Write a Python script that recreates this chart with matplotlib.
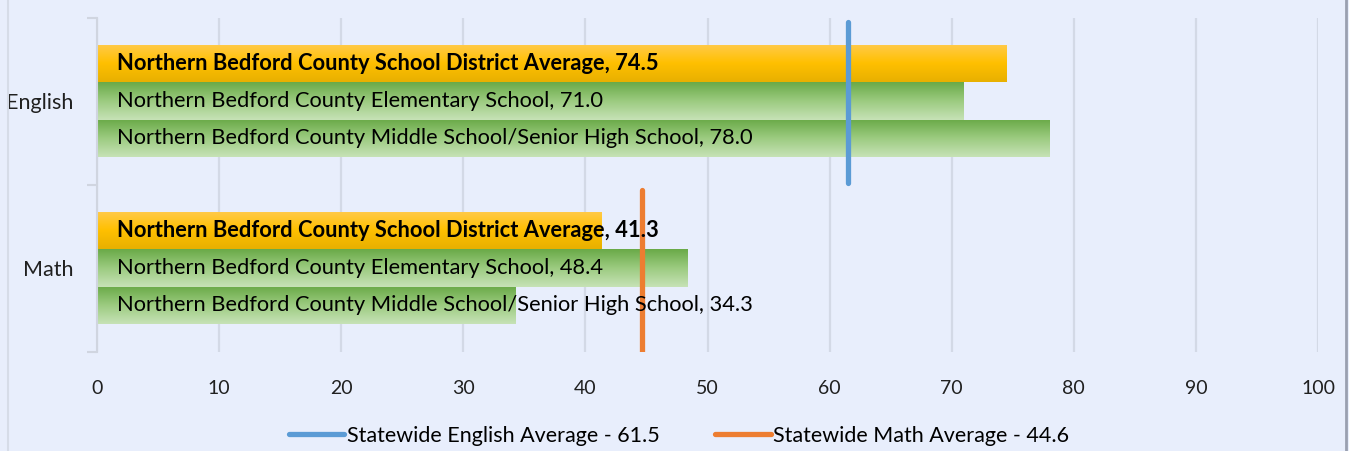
import numpy as np
import matplotlib
matplotlib.use("Agg")
import matplotlib.pyplot as plt
from matplotlib.colors import LinearSegmentedColormap

# Data
subjects = ["Math", "English"]
district = [41.3, 74.5]
elementary = [48.4, 71.0]
middle_high = [34.3, 78.0]
statewide = [44.6, 61.5]

district_name = "Northern Bedford County School District Average"
elementary_name = "Northern Bedford County Elementary School"
middle_name = "Northern Bedford County Middle School/Senior High School"
legend_labels = ["Statewide English Average - 61.5", "Statewide Math Average - 44.6"]
x_ticks = list(range(0, 101, 10))

BG = "#E8EEFC"
plt.rcParams['font.family'] = ['Lato', 'DejaVu Sans']

fig = plt.figure(figsize=(13.49, 4.51), dpi=100, facecolor=BG)
ax = fig.add_axes([97 / 1349, 1 - 352 / 451, (1318 - 97) / 1349, (352 - 18) / 451])
ax.set_facecolor(BG)

yellow_cmap = LinearSegmentedColormap.from_list("y", ["#FFCA4A", "#FFC000", "#E8B000"])
green_cmap = LinearSegmentedColormap.from_list("g", ["#6AAA48", "#9CCB80", "#C6E2B6"])

bar_h = 0.2245
offsets = [bar_h, 0.0, -bar_h]
series = [(district, yellow_cmap, district_name, True),
          (elementary, green_cmap, elementary_name, False),
          (middle_high, green_cmap, middle_name, False)]

grad = np.linspace(0, 1, 64).reshape(-1, 1)
labels = []
for (vals, cmap, name, bold), off in zip(series, offsets):
    for i, v in enumerate(vals):
        yc = i + 0.503 + off
        bars = ax.barh(yc, v, height=bar_h, color="none", zorder=2)
        patch = bars[0]
        im = ax.imshow(grad, extent=[0, v, yc - bar_h / 2, yc + bar_h / 2],
                       aspect="auto", cmap=cmap, zorder=2, origin="upper")
        im.set_clip_path(patch)
        t = ax.text(1.6, yc, f"{name}, {v:.1f}", va="center", ha="left",
                    fontsize=16.0 if bold else 15.0,
                    fontweight="bold" if bold else "normal",
                    color="black", zorder=5)
        labels.append((t, bold))

# Statewide average markers
line_colors = ["#ED7D31", "#5B9BD5"]
spans = [(0.0, 0.97), (1.012, 1.975)]
handles = {}
for i, v in enumerate(statewide):
    ln, = ax.plot([v, v], spans[i], color=line_colors[i], lw=3.8,
                  solid_capstyle="round", zorder=4)
    handles[i] = ln

ax.set_xlim(0, 100)
ax.set_ylim(0, 2)
ax.set_xticks(x_ticks)
ax.set_xticklabels([str(t) for t in x_ticks], fontsize=14, color="#202020")
ax.tick_params(axis="x", length=0, pad=20)
ax.grid(axis="x", color="#D3D9E6", lw=1.6, zorder=0)
ax.set_axisbelow(True)

ax.set_yticks([0, 1, 2])
ax.set_yticklabels([])
ax.set_yticks([0.503, 1.503], minor=True)
ax.set_yticklabels(subjects, minor=True, fontsize=15.5, color="#202020")
ax.tick_params(axis="y", which="major", length=7, width=1.5, color="#D0D5E0")
ax.tick_params(axis="y", which="minor", length=0, pad=17)

for s in ["top", "right", "bottom"]:
    ax.spines[s].set_visible(False)
ax.spines["left"].set_color("#D0D5E0")
ax.spines["left"].set_linewidth(1.5)

# fit label sizes to the widths seen in the original (bold ~541px, longest ~637px)
fig.canvas.draw()
r = fig.canvas.get_renderer()
bold_w = max(t.get_window_extent(r).width for t, b in labels if b)
norm_w = max(t.get_window_extent(r).width for t, b in labels if not b)
for t, b in labels:
    t.set_fontsize(t.get_fontsize() * (541 / bold_w if b else 637 / norm_w))

fig.legend([handles[1], handles[0]], legend_labels, loc="center",
           bbox_to_anchor=(679 / 1349, 1 - 436 / 451), ncol=2, frameon=False,
           fontsize=15.5, handlelength=2.6, handletextpad=0.1,
           columnspacing=2.6)

# chart area edges
fig.add_artist(plt.Line2D([8 / 1349, 8 / 1349], [0, 1], color="#D6DCE8", lw=1.5))
fig.add_artist(plt.Line2D([1346 / 1349, 1346 / 1349], [0, 1], color="#9AA0B0", lw=2))

fig.savefig("out.png", dpi=100, facecolor=BG)
